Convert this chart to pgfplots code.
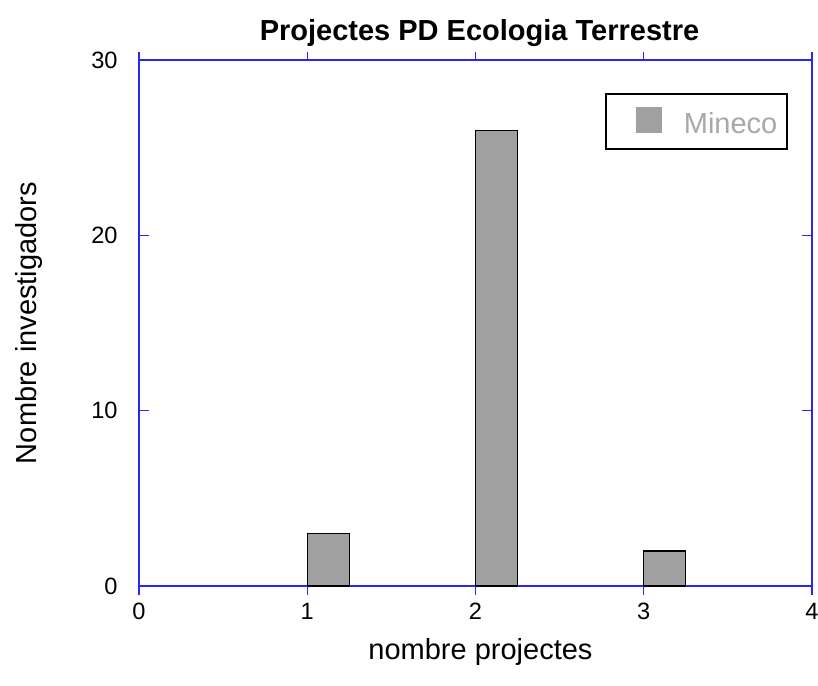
\documentclass[border=0pt]{standalone}
\usepackage{pgfplots}
\pgfplotsset{compat=1.18}
\usepackage{fontspec}
\setmainfont{Liberation Sans}
\definecolor{axblue}{RGB}{40,40,240}
\definecolor{barfill}{RGB}{160,160,160}
\definecolor{legtext}{RGB}{168,168,168}
\begin{document}
\begin{tikzpicture}
\useasboundingbox (0,0) rectangle (409bp,343bp);
\begin{axis}[
  at={(69.5bp,50bp)}, anchor=south west,
  scale only axis, width=336.5bp, height=263bp,
  xmin=0, xmax=4, ymin=0, ymax=30,
  xtick={0,1,2,3,4}, ytick={0,10,20,30},
  separate axis lines,
  axis line style={draw=axblue, line width=0.7bp},
  every outer x axis line/.append style={draw=axblue},
  every outer y axis line/.append style={draw=axblue},
  tick align=inside,
  major tick length=5bp,
  ytick style={draw=axblue, line width=0.7bp},
  xtick style={draw=none},
  /pgf/number format/assume math mode=true,
  tick label style={font=\fontsize{11.8bp}{14bp}\selectfont, inner sep=0pt},
  yticklabel style={anchor=east, xshift=-10.5bp},
  xticklabel style={anchor=north, yshift=-8.5bp},
  clip=false,
  legend style={at={(0.6924,0.9373)}, anchor=north west, draw=black,
    line width=0.9bp, inner xsep=5bp, inner ysep=6.5bp,
    font=\fontsize{14.5bp}{17bp}\selectfont\color{legtext},
    nodes={inner sep=0pt}, column sep=11bp},
]
\addplot[ybar, bar width=0.25, bar shift=0.125, fill=barfill, draw=black, line width=0.6bp,
  legend image code/.code={\path[draw=none, fill=none] (0bp,-4.35bp) rectangle (23bp,8.65bp);
    \fill[barfill, draw=none] (10bp,-4.35bp) rectangle (23bp,8.65bp);}]
  coordinates {(1,3) (2,26) (3,2)};
\addlegendentry{Mineco}
\pgfplotsinvokeforeach{0,1,2,3,4}{
  \draw[axblue, line width=0.7bp] (axis cs:#1,0) -- ++(0,-4.5bp);
  \draw[axblue, line width=0.7bp] (axis cs:#1,30) -- ++(0,4bp);
}
\node[font=\bfseries\fontsize{14.5bp}{17bp}\selectfont, anchor=base, xshift=2bp, yshift=9.5bp]
  at (rel axis cs:0.5,1) {Projectes PD Ecologia Terrestre};
\node[font=\fontsize{14.5bp}{17bp}\selectfont, anchor=base, xshift=2.5bp, yshift=-37bp]
  at (rel axis cs:0.5,0) {nombre projectes};
\node[font=\fontsize{14.5bp}{17bp}\selectfont, anchor=base, rotate=90, xshift=0bp, yshift=51bp]
  at (rel axis cs:0,0.5) {Nombre investigadors};
\end{axis}
\end{tikzpicture}
\end{document}
